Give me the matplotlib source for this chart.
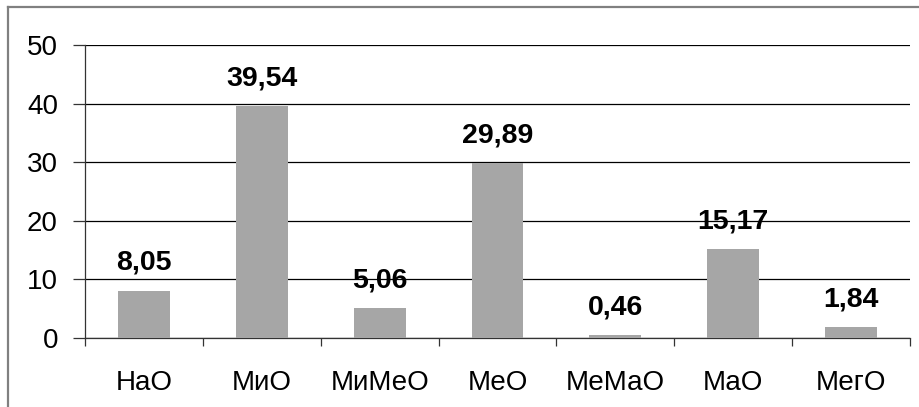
import matplotlib
matplotlib.use("Agg")
import matplotlib.pyplot as plt
from matplotlib.lines import Line2D
from matplotlib.ticker import FixedLocator, NullFormatter

plt.rcParams['font.family'] = ['Liberation Sans', 'DejaVu Sans']

categories = ["НаО", "МиО", "МиМеО", "МеО", "МеМаО", "МаО", "МегО"]
values = [8.05, 39.54, 5.06, 29.89, 0.46, 15.17, 1.84]
value_labels = ["8,05", "39,54", "5,06", "29,89", "0,46", "15,17", "1,84"]
y_ticks = [0, 10, 20, 30, 40, 50]

fig = plt.figure(figsize=(9.2, 4.07), dpi=100)
ax = fig.add_axes([85 / 920, 1 - 338 / 407, (910 - 85) / 920, (338 - 45) / 407])

x = list(range(len(categories)))
ax.bar(x, values, width=0.44, color="#A6A6A6", zorder=3)

for xi, v, lab in zip(x, values, value_labels):
    ax.annotate(lab, (xi, v), xytext=(0, 15), textcoords="offset points",
                ha="center", va="baseline", fontsize=20.5, fontweight="bold",
                color="black")

ax.set_xlim(-0.5, len(categories) - 0.5)
ax.set_ylim(0, 50)
ax.set_yticks(y_ticks)
ax.set_yticklabels([str(t) for t in y_ticks], fontsize=20)
ax.yaxis.grid(True, color="black", linewidth=0.9, zorder=0)

ax.set_xticks(x)
ax.set_xticklabels(categories, fontsize=20)
ax.xaxis.set_minor_locator(FixedLocator([i - 0.5 for i in range(len(categories) + 1)]))
ax.xaxis.set_minor_formatter(NullFormatter())
ax.tick_params(axis="x", which="major", length=0, pad=23)
ax.tick_params(axis="x", which="minor", length=6, width=0.9, direction="out", color="#333333")
ax.tick_params(axis="y", length=8.5, width=0.9, pad=11, color="#333333")

for side in ("top", "right"):
    ax.spines[side].set_visible(False)
ax.spines["left"].set_color("#333333")
ax.spines["left"].set_linewidth(0.9)
ax.spines["bottom"].set_color("#333333")
ax.spines["bottom"].set_linewidth(0.9)

# outer frame of the chart area
fig.add_artist(Line2D([8 / 920, 1.0], [1 - 7 / 407, 1 - 7 / 407],
                      transform=fig.transFigure, color="#808080", linewidth=1.6))
fig.add_artist(Line2D([8 / 920, 8 / 920], [0.0, 1 - 7 / 407],
                      transform=fig.transFigure, color="#808080", linewidth=1.6))

fig.savefig("out.png", dpi=100)
